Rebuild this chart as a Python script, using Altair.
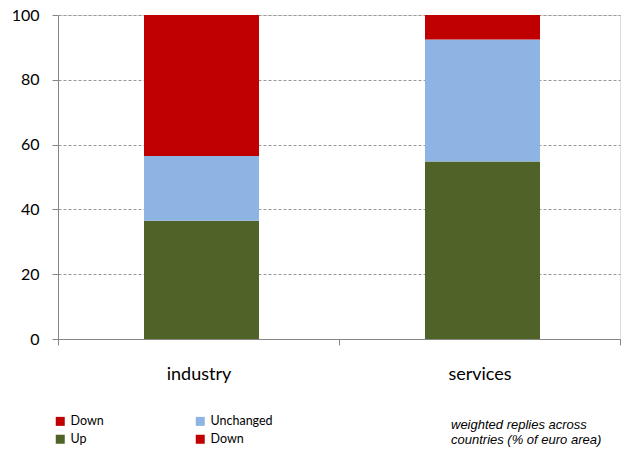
import altair as alt
import pandas as pd

categories = ["industry", "services"]
up = [36.5, 54.8]
unchanged = [20.0, 37.6]
down = [43.5, 7.6]

series_names = ["Up", "Unchanged", "Down"]
series_values = [up, unchanged, down]

rows = []
for s_idx, (name, vals) in enumerate(zip(series_names, series_values)):
    for cat, v in zip(categories, vals):
        rows.append({"sector": cat, "reply": name, "value": v, "order": s_idx})
df = pd.DataFrame(rows)

# legend laid out column by column: (Down, Up) then (Unchanged, Down)
legend_domain = ["Down", "Up", "Unchanged", "Down2"]
legend_range = ["#C00000", "#4F6228", "#8EB4E3", "#C00000"]

FONT = "Lato"

bars = alt.Chart(df).mark_bar(size=115, xOffset=3).encode(
    x=alt.X(
        "sector:N",
        sort=categories,
        scale=alt.Scale(paddingInner=0, paddingOuter=0),
        axis=alt.Axis(
            title=None,
            labelAngle=0,
            labelFontSize=18,
            labelFont=FONT,
            labelColor="#000000",
            labelPadding=20,
            tickBand="extent",
            tickSize=6,
            tickColor="#868686",
            domainColor="#868686",
            grid=False,
        ),
    ),
    y=alt.Y(
        "value:Q",
        stack="zero",
        scale=alt.Scale(domain=[0, 100], nice=False),
        axis=alt.Axis(
            title=None,
            values=[0, 20, 40, 60, 80, 100],
            labelFontSize=16,
            labelFont=FONT,
            labelColor="#000000",
            labelPadding=13,
            tickSize=6,
            tickColor="#868686",
            domainColor="#868686",
            gridColor="#9a9a9a",
            gridDash=[3, 2],
            gridWidth=1,
        ),
    ),
    color=alt.Color(
        "reply:N",
        scale=alt.Scale(domain=legend_domain, range=legend_range),
        legend=alt.Legend(
            title=None,
            orient="none",
            legendX=-4,
            legendY=400,
            columns=2,
            columnPadding=90,
            rowPadding=5,
            symbolType="square",
            symbolSize=81,
            symbolStrokeWidth=0,
            labelFontSize=12.5,
            labelFont=FONT,
            labelColor="#000000",
            labelOffset=4,
            labelExpr="datum.label == 'Down2' ? 'Down' : datum.label",
        ),
    ),
    order=alt.Order("order:Q", sort="ascending"),
)

note = alt.Chart(pd.DataFrame({"t": [["weighted replies across", "countries (% of euro area)"]]})).mark_text(
    align="left",
    baseline="top",
    font="Liberation Sans",
    fontSize=13,
    fontStyle="italic",
    color="#000000",
    lineHeight=15,
).encode(x=alt.value(393), y=alt.value(404), text="t")

chart = alt.layer(bars, note).properties(
    width=562,
    height=324,
    autosize=alt.AutoSizeParams(type="none"),
    padding={"left": 58, "top": 15, "right": 2, "bottom": 111},
).configure_view(stroke=None).configure(background="white")

chart.save("out.html", embed_options={"renderer": "svg", "actions": False})
